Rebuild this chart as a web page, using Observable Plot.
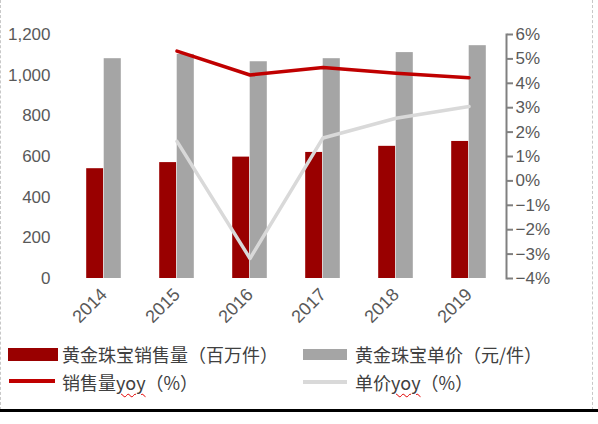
<!DOCTYPE html>
<html>
<head>
<meta charset="utf-8">
<script src="https://cdn.jsdelivr.net/npm/d3@7"></script>
<script src="https://cdn.jsdelivr.net/npm/@observablehq/plot@0.6"></script>
<style>
  body { margin: 0; background: #fff; }
  #wrap { position: relative; width: 598px; height: 424px; overflow: hidden; }
  #chart { position: absolute; left: 0; top: 0; }
  .borde { position: absolute; top: 0; height: 410px; border-left: 1px dashed #c8c8c8; }
  .raya { position: absolute; left: 0; top: 409px; width: 598px; height: 3px; background: #000; }
  .ley { position: absolute; font-family: "Noto Sans CJK SC", sans-serif; font-size: 18px; color: #404040; line-height: 22px; white-space: nowrap; }
  .sw { position: absolute; }
  .yoy { text-decoration: underline wavy #e00000; text-decoration-thickness: 1px; text-underline-offset: 3px; }
</style>
</head>
<body>
<div id="wrap">
  <div id="chart"></div>
  <div class="borde" style="left:0"></div>
  <div class="borde" style="left:592px"></div>

  <div class="sw" style="left:8px;top:348px;width:50px;height:13px;background:#990000"></div>
  <div class="ley" style="left:62px;top:343px">黄金珠宝销售量（百万件）</div>
  <div class="sw" style="left:303px;top:349px;width:44px;height:11px;background:#a5a5a5"></div>
  <div class="ley" style="left:355px;top:343px">黄金珠宝单价（元/件）</div>

  <div class="sw" style="left:9px;top:379px;width:46px;height:4px;background:#c00000"></div>
  <div class="ley" style="left:62px;top:371px">销售量<span class="yoy">yoy</span>（%）</div>
  <div class="sw" style="left:303px;top:380px;width:44px;height:4px;background:#d9d9d9"></div>
  <div class="ley" style="left:355px;top:371px">单价<span class="yoy">yoy</span>（%）</div>

  <div class="raya"></div>
</div>
<script>
// años y valores
const anios = ["2014", "2015", "2016", "2017", "2018", "2019"]
const ventas = [540, 570, 597, 620, 650, 674]          // 黄金珠宝销售量（百万件）
const precio = [1081, 1102, 1066, 1081, 1111, 1145]    // 黄金珠宝单价（元/件）
const ventasYoy = [null, 5.32, 4.34, 4.65, 4.41, 4.23] // 销售量yoy（%）
const precioYoy = [null, 1.62, -3.18, 1.76, 2.57, 3.05] // 单价yoy（%）
const ticksIzq = [0, 200, 400, 600, 800, 1000, 1200]
const ticksDer = [-4, -3, -2, -1, 0, 1, 2, 3, 4, 5, 6]

/* el eje derecho (-4%..6%) se lleva a la escala izquierda (0..1200) */
const aIzq = p => (p + 4) * 120

const tabla = anios.map((anio, i) => ({
  anio, ventas: ventas[i], precio: precio[i], ventasYoy: ventasYoy[i], precioYoy: precioYoy[i]
}))
const conYoy = tabla.filter(d => d.ventasYoy != null)

const fmtPct = d3.format("d")

let chart = Plot.plot({
  width: 598,
  height: 335,
  marginLeft: 66,
  marginRight: 92,
  marginTop: 34,
  marginBottom: 57,
  x: { domain: anios, padding: 0 },
  y: { domain: [0, 1200] },
  style: { fontFamily: "'Liberation Sans', sans-serif", fontSize: "17px", color: "#595959", background: "transparent", overflow: "visible" },
  marks: [
    Plot.barY(tabla, { x: "anio", y: "ventas", fill: "#990000", insetLeft: 19.2, insetRight: 36.9 }),
    Plot.barY(tabla, { x: "anio", y: "precio", fill: "#a5a5a5", insetLeft: 36.7, insetRight: 19.2 }),
    Plot.line(conYoy, { x: "anio", y: d => aIzq(d.precioYoy), stroke: "#d9d9d9", strokeWidth: 3.5 }),
    Plot.line(conYoy, { x: "anio", y: d => aIzq(d.ventasYoy), stroke: "#c00000", strokeWidth: 3.5 }),
    Plot.axisY(ticksIzq, { tickSize: 0, tickPadding: 16, tickFormat: d3.format(","), label: null, fill: "#595959" }),
    Plot.axisY(ticksDer, { anchor: "right", y: aIzq, tickFormat: p => fmtPct(p) + "%", tickSize: 6, tickPadding: 3, stroke: "#808080", strokeWidth: 2, fill: "#595959", label: null }),
    Plot.frame({ anchor: "right", stroke: "#808080", strokeWidth: 2 }),
    Plot.axisX({ tickRotate: -45, tickSize: 0, tickPadding: 13, label: null, fontSize: 18, fill: "#595959" })
  ]
})

d3.select('#chart').append(() => chart)
</script>
</body>
</html>
